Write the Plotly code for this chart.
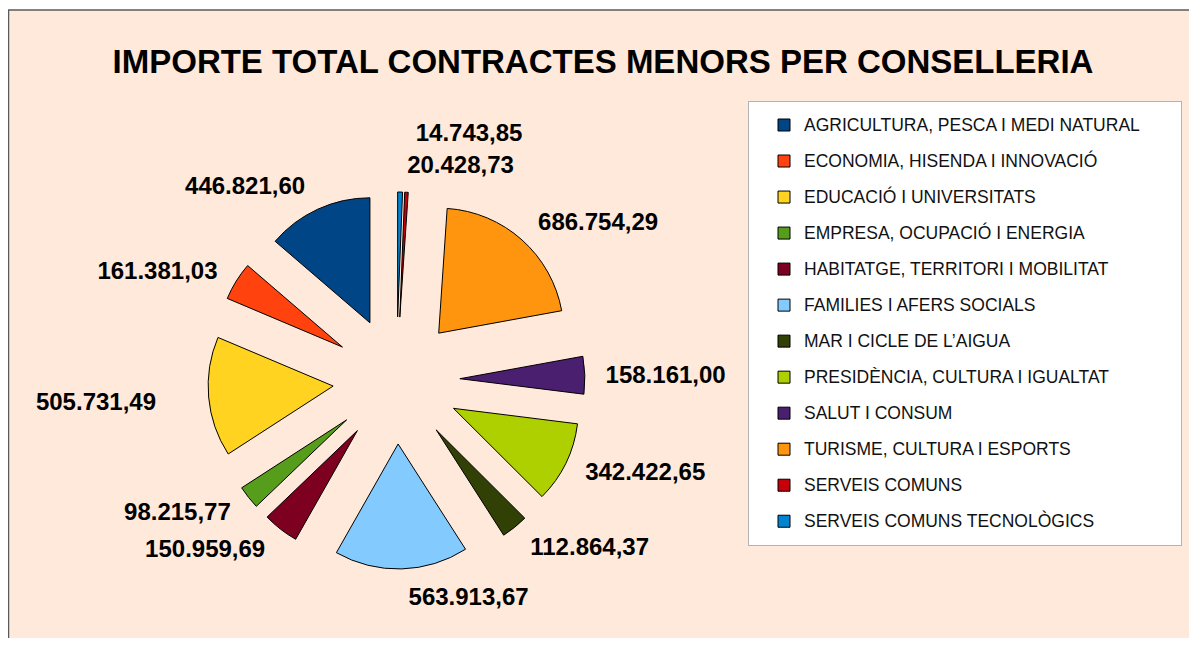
import plotly.graph_objects as go

categories = [
    "AGRICULTURA, PESCA I MEDI NATURAL",
    "ECONOMIA, HISENDA I INNOVACIÓ",
    "EDUCACIÓ I UNIVERSITATS",
    "EMPRESA, OCUPACIÓ I ENERGIA",
    "HABITATGE, TERRITORI I MOBILITAT",
    "FAMILIES I AFERS SOCIALS",
    "MAR I CICLE DE L’AIGUA",
    "PRESIDÈNCIA, CULTURA I IGUALTAT",
    "SALUT I CONSUM",
    "TURISME, CULTURA I ESPORTS",
    "SERVEIS COMUNS",
    "SERVEIS COMUNS TECNOLÒGICS",
]
values = [
    446821.60, 161381.03, 505731.49, 98215.77, 150959.69, 563913.67,
    112864.37, 342422.65, 158161.00, 686754.29, 14743.85, 20428.73,
]
colors = [
    "#004586", "#ff420e", "#ffd320", "#579d1c", "#7e0021", "#83caff",
    "#314004", "#aecf00", "#4b1f6f", "#ff950e", "#c5000b", "#0084d1",
]
title_text = "IMPORTE TOTAL CONTRACTES MENORS PER CONSELLERIA"

W, H = 1181, 630
PEACH = "#ffe9da"

# LibreOffice starts the first slice at 12 o'clock going counter-clockwise;
# plotly puts the first slice clockwise of 12 o'clock, so rotate by its angle.
first_angle = 360.0 * values[0] / sum(values)

legend_labels = [
    f"<span style='font-size:17.5px;baseline-shift:4px'>{c}</span>" for c in categories
]
legend_labels[0] += "&nbsp;" * 5

PULL = 0.508
CX, CY = 388.4, 372.5          # pie centre in figure pixels
HALF = 188.5                   # half size of the pie box
HALF_TXT = HALF + 14           # value labels sit a little further out
HALF_TXT_FAR = HALF + 46       # a few labels sit further out still

FAR = {"SERVEIS COMUNS", "EDUCACIÓ I UNIVERSITATS"}
pos_main = ["none" if c in FAR else "outside" for c in categories]
pos_far = ["outside" if c in FAR else "none" for c in categories]


def dom(half):
    return dict(x=[(CX - half) / W, (CX + half) / W],
                y=[1 - (CY + half) / H, 1 - (CY - half) / H])


common = dict(
    labels=legend_labels,
    values=values,
    sort=False,
    direction="counterclockwise",
    rotation=-first_angle,
    pull=PULL,
)
label_font = dict(family="Liberation Sans", size=24, color="#000000", weight="bold")

pie = go.Pie(
    **common,
    marker=dict(colors=colors, line=dict(color="#000000", width=1)),
    textinfo="none",
    hoverinfo="label+value",
    domain=dom(HALF),
)


def label_trace(positions, half):
    return go.Pie(
        **common,
        marker=dict(colors=["rgba(0,0,0,0)"] * len(values), line=dict(width=0)),
        textposition=positions,
        texttemplate="%{value:,.2f}",
        outsidetextfont=label_font,
        hoverinfo="skip",
        showlegend=False,
        domain=dom(half),
    )


fig = go.Figure([pie, label_trace(pos_main, HALF_TXT), label_trace(pos_far, HALF_TXT_FAR)])

fig.update_layout(
    width=W,
    height=H,
    margin=dict(l=0, r=0, t=0, b=0, autoexpand=False),
    paper_bgcolor="white",
    plot_bgcolor=PEACH,
    separators=",.",
    font=dict(family="Liberation Sans", color="#000000"),
    title=dict(
        text=title_text,
        x=595 / W,
        xref="container",
        xanchor="center",
        y=1 - 53 / H,
        yref="container",
        yanchor="middle",
        font=dict(family="Liberation Sans", size=33, color="#000000", weight="bold"),
    ),
    legend=dict(
        x=740 / W,
        y=1 - 93 / H,
        xanchor="left",
        yanchor="top",
        bgcolor="#ffffff",
        bordercolor="#b3b3b3",
        borderwidth=1,
        font=dict(family="Liberation Sans", size=25.4, color="#111111"),
        indentation=15,
    ),
    shapes=[
        dict(type="rect", xref="paper", yref="paper", x0=0, x1=1, y0=0, y1=1 - 2 / H,
             fillcolor=PEACH, line=dict(width=0), layer="below"),
        dict(type="line", xref="paper", yref="paper", x0=0, x1=1, y0=1 - 2 / H, y1=1 - 2 / H,
             line=dict(color="#5a5a5a", width=1.5), layer="below"),
        dict(type="line", xref="paper", yref="paper", x0=0.5 / W, x1=0.5 / W, y0=0, y1=1 - 2 / H,
             line=dict(color="#5a5a5a", width=1.5), layer="below"),
    ],
)

fig.write_html("out.html")
